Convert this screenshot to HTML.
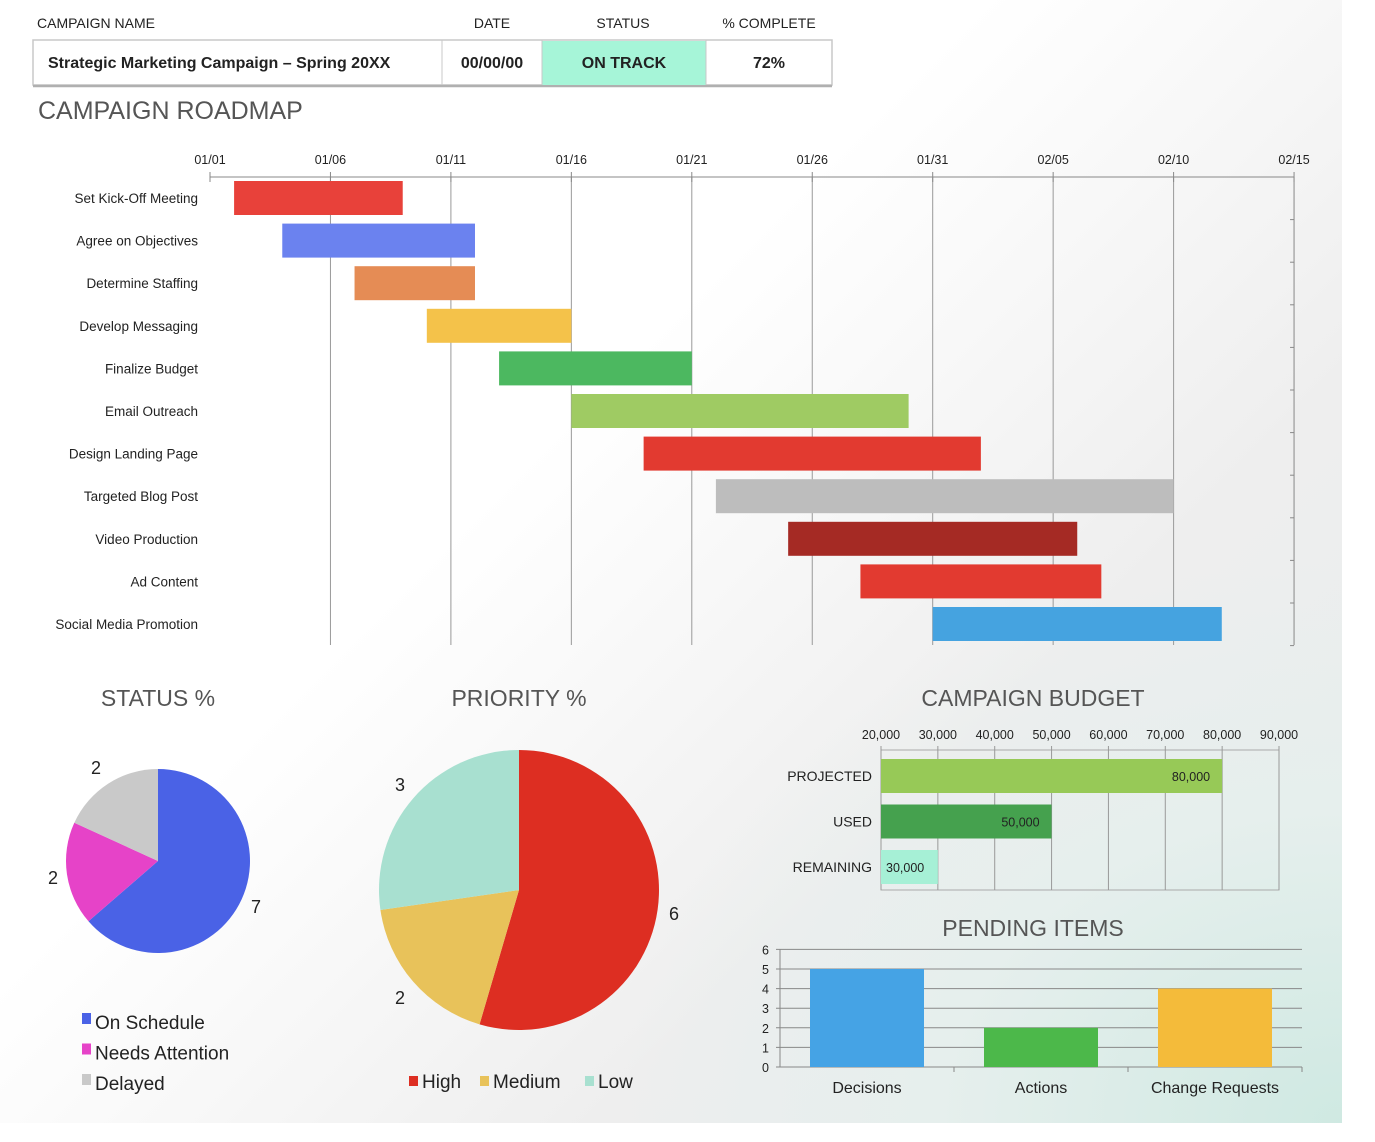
<!DOCTYPE html>
<html><head><meta charset="utf-8"><style>
body{margin:0;width:1375px;height:1142px;overflow:hidden;font-family:"Liberation Sans",sans-serif;background:#fff;}
#bg{position:absolute;left:0;top:0;width:1342px;height:1123px;background:radial-gradient(ellipse 900px 700px at 1342px 1123px,#cfe9e2 0%,#e6efed 45%,rgba(255,255,255,0) 80%),linear-gradient(135deg,#fff 0%,#fff 40%,#eeeeee 70%,#e8ecec 100%);}
svg{position:absolute;left:0;top:0;}
</style></head><body>
<div id="bg"></div>
<svg id="s" width="1375" height="1142"></svg>
<script>
const taskNames=["Set Kick-Off Meeting","Agree on Objectives","Determine Staffing","Develop Messaging","Finalize Budget","Email Outreach","Design Landing Page","Targeted Blog Post","Video Production","Ad Content","Social Media Promotion"];
const taskStart=[1,3,6,9,12,15,18,21,24,27,30];
const taskEnd=[8,11,11,15,20,29,32,40,36,37,42];
const taskColors=["#e8413a","#6b82ef","#e58c55","#f4c24a","#4cb860","#9fcb63","#e23a30","#bdbdbd","#a52a24","#e23a30","#45a3e0"];
const dateTicks=["01/01","01/06","01/11","01/16","01/21","01/26","01/31","02/05","02/10","02/15"];
const statusLabels=["On Schedule","Needs Attention","Delayed"];
const statusValues=[7,2,2];
const statusColors=["#4a62e6","#e643c8","#c9c9c9"];
const priorityLabels=["High","Medium","Low"];
const priorityValues=[6,2,3];
const priorityColors=["#dd2e22","#e8c25a","#a8e0d0"];
const budgetLabels=["PROJECTED","USED","REMAINING"];
const budgetValues=[80000,50000,30000];
const budgetText=["80,000","50,000","30,000"];
const budgetColors=["#97c957","#45a14e","#a6f0d6"];
const budgetTicks=[20000,30000,40000,50000,60000,70000,80000,90000];
const pendingLabels=["Decisions","Actions","Change Requests"];
const pendingValues=[5,2,4];
const pendingColors=["#45a3e5","#4cb84a","#f4bb3a"];
const pendingTicks=[0,1,2,3,4,5,6];

const S=document.getElementById('s');const NS='http://www.w3.org/2000/svg';
function el(t,a,txt){const e=document.createElementNS(NS,t);for(const k in a)e.setAttribute(k,a[k]);if(txt!==undefined)e.textContent=txt;S.appendChild(e);return e;}
function tx(x,y,s,o){return el('text',Object.assign({x:x,y:y,'font-size':13,fill:'#222'},o||{}),s);}

let e;
e=tx(37,28,"CAMPAIGN NAME",{'font-size':14});
e=tx(492,28,"DATE",{'font-size':14,'text-anchor':'middle'});
e=tx(623,28,"STATUS",{'font-size':14,'text-anchor':'middle'});
e=tx(769,28,"% COMPLETE",{'font-size':14,'text-anchor':'middle'});
el('rect',{x:33,y:40,width:799,height:45,fill:'#fff',stroke:'#c8c8c8','stroke-width':1.5});
el('line',{x1:33,y1:86,x2:832,y2:86,stroke:'#b0b0b0','stroke-width':2.5});
e=el('rect',{x:542,y:41,width:164,height:44,fill:'#a6f5d8'});
el('line',{x1:442,y1:40,x2:442,y2:85,stroke:'#c8c8c8'});el('line',{x1:542,y1:40,x2:542,y2:85,stroke:'#c8c8c8'});el('line',{x1:706,y1:40,x2:706,y2:85,stroke:'#c8c8c8'});
e=tx(48,68,"Strategic Marketing Campaign – Spring 20XX",{'font-size':16,'font-weight':'bold'});
e=tx(492,68,"00/00/00",{'font-size':16,'font-weight':'bold','text-anchor':'middle'});
e=tx(624,68,"ON TRACK",{'font-size':16,'font-weight':'bold','text-anchor':'middle'});
e=tx(769,68,"72%",{'font-size':16,'font-weight':'bold','text-anchor':'middle'});
e=tx(38,119,"CAMPAIGN ROADMAP",{'font-size':25,fill:'#555'});

const gx0=210,gpd=24.09,gTop=177,gBot=645,rowY0=198,rowH=42.6;
const gX=d=>gx0+d*gpd;
el('line',{x1:gx0,y1:gTop,x2:gX(45),y2:gTop,stroke:'#888'});
el('line',{x1:gX(45),y1:gTop,x2:gX(45),y2:gBot,stroke:'#888'});
dateTicks.forEach((t,i)=>{const x=gX(i*5);
 if(i>0&&i<9)el('line',{x1:x,y1:gTop,x2:x,y2:gBot,stroke:'#999'});
 el('line',{x1:x,y1:gTop-5,x2:x,y2:gTop+5,stroke:'#888'});
 const l=tx(x,164,t,{'font-size':12.5,'text-anchor':'middle'});});
for(let i=0;i<=11;i++){el('line',{x1:gX(45)-4,y1:gTop+i*rowH,x2:gX(45),y2:gTop+i*rowH,stroke:'#888'});}
taskNames.forEach((n,i)=>{const y=rowY0+i*rowH;
 const l=tx(198,y+5,n,{'font-size':13.5,'text-anchor':'end'});
 const r=el('rect',{x:gX(taskStart[i]),y:y-17,width:gX(taskEnd[i])-gX(taskStart[i]),height:34,fill:taskColors[i]});
 });

function pie(cx,cy,r,vals,cols,labPos,name){const tot=vals.reduce((a,b)=>a+b,0);let a=0;
 vals.forEach((v,i)=>{const a1=a+v/tot*2*Math.PI;
  const p=(t)=>[cx+r*Math.sin(t),cy-r*Math.cos(t)];const [x0,y0]=p(a),[x1,y1]=p(a1);
  const s=el('path',{d:`M${cx},${cy}L${x0},${y0}A${r},${r} 0 ${a1-a>Math.PI?1:0} 1 ${x1},${y1}Z`,fill:cols[i]});
  
  const l=tx(labPos[i][0],labPos[i][1],String(v),{'font-size':18,'text-anchor':'middle'});
  a=a1;});}
e=tx(158,706,"STATUS %",{'font-size':23,fill:'#555','text-anchor':'middle'});
pie(158,861,92,statusValues,statusColors,[[256,913],[53,884],[96,774]],'status');
statusLabels.forEach((n,i)=>{const y=1023+i*30.5;el('rect',{x:82,y:y-10,width:9,height:11,fill:statusColors[i]});
 const l=tx(95,y+6,n,{'font-size':19});});
e=tx(519,706,"PRIORITY %",{'font-size':23,fill:'#555','text-anchor':'middle'});
pie(519,890,140,priorityValues,priorityColors,[[674,920],[400,1004],[400,791]],'priority');
let lx=[409,480,585];
priorityLabels.forEach((n,i)=>{el('rect',{x:lx[i],y:1076,width:9,height:10,fill:priorityColors[i]});
 const l=tx(lx[i]+13,1088,n,{'font-size':19});});

e=tx(1033,706,"CAMPAIGN BUDGET",{'font-size':23,fill:'#555','text-anchor':'middle'});
const bX=v=>881+(v-20000)/70000*398;const bTop=750,bBot=890;
el('rect',{x:bX(20000),y:bTop,width:398,height:bBot-bTop,fill:'none',stroke:'#aaa'});
budgetTicks.forEach(t=>{const x=bX(t);el('line',{x1:x,y1:bTop-4,x2:x,y2:bBot,stroke:'#999'});
 const l=tx(x,739,t.toLocaleString('en-US'),{'font-size':12.5,'text-anchor':'middle'});});
budgetLabels.forEach((n,i)=>{const y=776+i*45.5;
 const r=el('rect',{x:bX(20000),y:y-17,width:bX(budgetValues[i])-bX(20000),height:34,fill:budgetColors[i]});
 const l=tx(872,y+5,n,{'font-size':14,'text-anchor':'end'});
 const v=i==2?tx(bX(20000)+5,y+5,budgetText[i],{'font-size':12.5}):tx(bX(budgetValues[i])-12,y+5,budgetText[i],{'font-size':12.5,'text-anchor':'end'});
 });

e=tx(1033,936,"PENDING ITEMS",{'font-size':23,fill:'#555','text-anchor':'middle'});
const pY=v=>1067-v*19.6;const px0=780,pw=522;
pendingTicks.forEach(t=>{el('line',{x1:px0-4,y1:pY(t),x2:px0+pw,y2:pY(t),stroke:'#888'});
 const l=tx(769,pY(t)+5,String(t),{'font-size':12.5,'text-anchor':'end'});});
el('line',{x1:px0,y1:pY(6),x2:px0,y2:pY(0),stroke:'#888'});
pendingLabels.forEach((n,i)=>{const c=px0+pw/3*(i+0.5);el('line',{x1:px0+pw/3*(i+1),y1:1067,x2:px0+pw/3*(i+1),y2:1072,stroke:'#888'});
 const r=el('rect',{x:c-57,y:pY(pendingValues[i]),width:114,height:pY(0)-pY(pendingValues[i]),fill:pendingColors[i]});
 const l=tx(c,1093,n,{'font-size':16,'text-anchor':'middle'});});
</script>
</body></html>
